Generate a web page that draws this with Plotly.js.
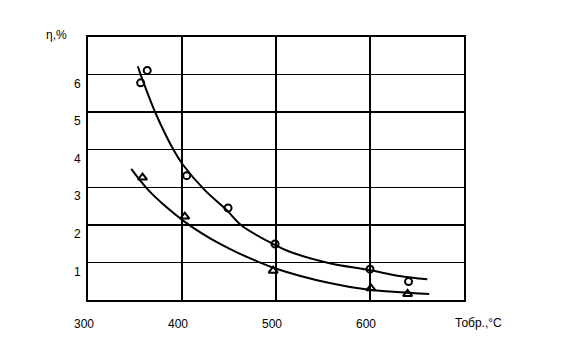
<!DOCTYPE html>
<html>
<head>
<meta charset="utf-8">
<script src="https://cdn.plot.ly/plotly-3.0.1.min.js"></script>
<style>html,body{margin:0;padding:0;background:#fff;}#chart{width:562px;height:351px;}</style>
</head>
<body>
<div id="chart"></div>
<script>
// Measured points (circles and triangles)
const tempCircle = [356, 363, 405, 449, 499, 600, 641];
const etaCircle  = [5.78, 6.11, 3.31, 2.45, 1.49, 0.82, 0.49];
const tempTri    = [358, 403, 497, 601, 640];
const etaTri     = [3.26, 2.22, 0.78, 0.31, 0.16];

// Fitted curves
const curveTempUpper = [353, 356, 373, 392, 401, 424, 448, 463, 497, 514, 557, 599, 631, 661];
const curveEtaUpper  = [6.22, 6.0, 4.91, 3.95, 3.6, 2.93, 2.38, 1.99, 1.49, 1.29, 0.98, 0.80, 0.64, 0.55];
const curveTempLower = [346, 364, 383, 403, 422, 440, 460, 480, 497, 557, 599, 663];
const curveEtaLower  = [3.49, 2.93, 2.48, 2.08, 1.76, 1.50, 1.25, 1.03, 0.86, 0.45, 0.27, 0.16];

const xTicks = [300, 400, 500, 600];
const yTicks = [1, 2, 3, 4, 5, 6];
const yTitle = 'η,%';
const xTitle = 'Тобр.,°C';

const font = {family: 'Liberation Sans, Arial, sans-serif', size: 12, color: '#000'};

const traces = [
  {x: curveTempUpper, y: curveEtaUpper, mode: 'lines', line: {color: '#000', width: 2, shape: 'spline', smoothing: 1}, hoverinfo: 'skip'},
  {x: curveTempLower, y: curveEtaLower, mode: 'lines', line: {color: '#000', width: 2, shape: 'spline', smoothing: 1}, hoverinfo: 'skip'},
  {x: tempCircle, y: etaCircle, mode: 'markers', marker: {symbol: 'circle-open', size: 7, color: '#000', line: {width: 2, color: '#000'}}},
  {x: tempTri, y: etaTri, mode: 'markers', marker: {symbol: 'triangle-up-open', size: 8, color: '#000', line: {width: 2, color: '#000'}}}
];

const layout = {
  width: 562, height: 351,
  margin: {l: 88, r: 98, t: 37, b: 51, pad: 0},
  paper_bgcolor: '#fff', plot_bgcolor: '#fff',
  showlegend: false,
  font: font,
  xaxis: {
    range: [300, 700], tickvals: xTicks, ticktext: xTicks.map(String),
    showgrid: true, gridcolor: '#000', gridwidth: 1.5,
    showline: true, linecolor: '#000', linewidth: 2, mirror: true,
    zeroline: false, ticks: '', ticklabelshift: -4, ticklabelstandoff: 12,
    tickfont: font
  },
  yaxis: {
    range: [0, 7], tickvals: yTicks, ticktext: yTicks.map(String),
    showgrid: true, gridcolor: '#000', gridwidth: 1.5,
    showline: true, linecolor: '#000', linewidth: 2, mirror: true,
    zeroline: false, ticks: '', ticklabelshift: 9, ticklabelstandoff: 3,
    tickfont: font
  },
  annotations: [
    {text: yTitle, xref: 'paper', yref: 'paper', x: -0.085, y: 1.0, xanchor: 'center', yanchor: 'middle', showarrow: false, font: font, yshift: 2, xshift: 0},
    {text: xTitle, xref: 'paper', yref: 'paper', x: 1.0, y: 0, xanchor: 'center', yanchor: 'middle', showarrow: false, font: font, xshift: 14, yshift: -23}
  ]
};

Plotly.newPlot('chart', traces, layout, {displayModeBar: false, staticPlot: true});
</script>
</body>
</html>
